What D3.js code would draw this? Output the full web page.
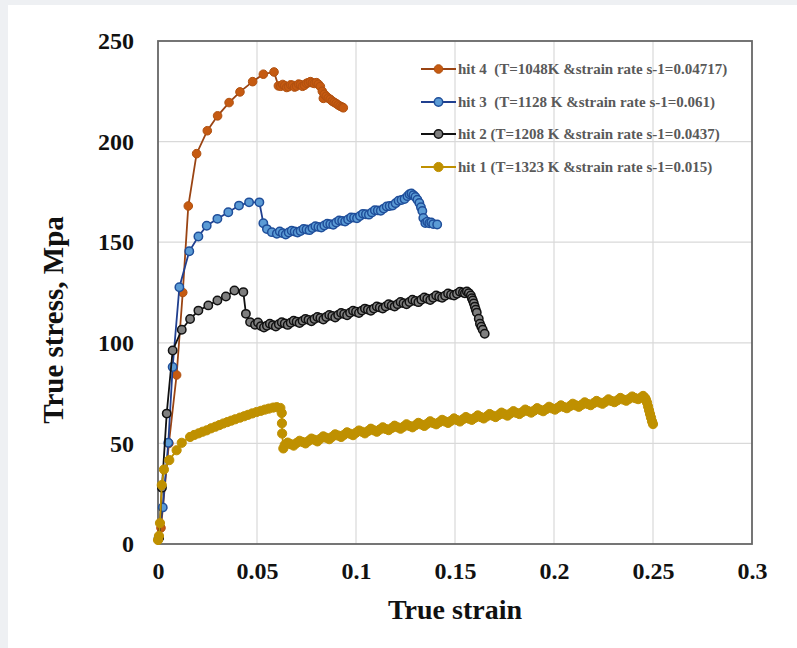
<!DOCTYPE html>
<html>
<head>
<meta charset="utf-8">
<script src="https://cdn.jsdelivr.net/npm/d3@7"></script>
<style>
  body { margin: 0; background: #eef0f3; }
  text { font-family: "Liberation Serif", "Times New Roman", serif; font-weight: bold; }
</style>
</head>
<body>
<svg id="container" width="797" height="648"></svg>
<script>
// tick labels
var xTicks = [0, 0.05, 0.1, 0.15, 0.2, 0.25, 0.3];
var yTicks = [0, 50, 100, 150, 200, 250];
var xTickLabels = ["0", "0.05", "0.1", "0.15", "0.2", "0.25", "0.3"];
var yTickLabels = ["0", "50", "100", "150", "200", "250"];

// series names (legend order)
var seriesNames = [
  "hit 4  (T=1048K &strain rate s-1=0.04717)",
  "hit 3  (T=1128 K &strain rate s-1=0.061)",
  "hit 2 (T=1208 K &strain rate s-1=0.0437)",
  "hit 1 (T=1323 K &strain rate s-1=0.015)"
];

// [true strain, true stress MPa]
var hit4 = [
  [0.0005, 3], [0.0015, 8], [0.0055, 50], [0.0094, 84], [0.0125, 125], [0.0153, 168],
  [0.0195, 194], [0.0249, 205.4], [0.0301, 212.8], [0.0359, 219.4], [0.0414, 224.7],
  [0.0478, 229.8], [0.0532, 233.5], [0.0586, 234.6], [0.0608, 227.7], [0.062, 227.5],
  [0.063, 228.4], [0.064, 227.8], [0.065, 226.9], [0.066, 227.3], [0.067, 228.2],
  [0.068, 228.0], [0.069, 227.1], [0.070, 227.6], [0.071, 228.6], [0.072, 228.3],
  [0.073, 227.5], [0.074, 228.0], [0.075, 229.0], [0.076, 229.3], [0.077, 229.8],
  [0.078, 229.2], [0.079, 228.9], [0.080, 229.3], [0.081, 228.5], [0.082, 227.4],
  [0.083, 225.0], [0.0835, 221.5], [0.084, 223.5], [0.085, 222.5], [0.086, 221.6],
  [0.087, 221.0], [0.088, 220.1], [0.089, 219.5], [0.090, 218.9], [0.091, 218.2],
  [0.092, 217.6], [0.093, 217.2], [0.0936, 216.8]
];

var hit3 = [
  [0.0003, 3], [0.0024, 18.2], [0.0052, 50.3], [0.0074, 88], [0.0108, 127.6],
  [0.0158, 145.5], [0.0204, 152.8], [0.0246, 158.2], [0.030, 161.6], [0.0355, 164.9],
  [0.0409, 168.2], [0.046, 169.8], [0.0512, 169.8], [0.0532, 159.4], [0.055, 156.5],
  [0.0575, 155.0], [0.060, 154.2], [0.0615, 155.3], [0.063, 154.5], [0.0645, 153.8],
  [0.066, 154.8], [0.0675, 155.7], [0.069, 155.3], [0.0705, 154.8], [0.072, 155.6],
  [0.0735, 156.6], [0.075, 156.3], [0.0765, 156.0], [0.078, 157.0], [0.0795, 157.9],
  [0.081, 157.6], [0.0825, 157.3], [0.084, 158.3], [0.0855, 159.2], [0.087, 159.0],
  [0.0885, 158.7], [0.090, 159.8], [0.0915, 160.8], [0.093, 160.6], [0.0945, 160.3],
  [0.096, 161.3], [0.0975, 162.3], [0.099, 162.2], [0.1005, 161.9], [0.102, 163.0],
  [0.1035, 164.1], [0.105, 163.9], [0.1065, 163.7], [0.108, 164.8], [0.1095, 165.9],
  [0.111, 165.8], [0.1125, 165.6], [0.114, 166.7], [0.1155, 167.8], [0.117, 168.0],
  [0.1185, 168.2], [0.120, 169.4], [0.1215, 170.6], [0.123, 171.0], [0.1245, 171.5],
  [0.126, 172.9], [0.127, 173.8], [0.128, 174.2], [0.129, 173.4], [0.130, 172.5],
  [0.131, 171.1], [0.132, 169.5], [0.1328, 167.4], [0.1335, 165.5], [0.134, 162.0],
  [0.135, 159.5], [0.136, 160.2], [0.137, 159.4], [0.138, 159.8], [0.139, 159.0],
  [0.141, 158.8]
];

var hit2 = [
  [0.0005, 3], [0.002, 28], [0.0044, 64.8], [0.0074, 96.2], [0.012, 106.5],
  [0.0162, 111.8], [0.0204, 116], [0.0254, 118.6], [0.030, 121], [0.0343, 123],
  [0.0386, 126], [0.0431, 125.2], [0.0444, 114.4], [0.0465, 110.3], [0.049, 109.0],
  [0.0505, 110.1], [0.052, 108.3], [0.0535, 107.6], [0.055, 108.5], [0.0565, 109.5],
  [0.058, 108.8], [0.0595, 108.1], [0.061, 109.2], [0.0625, 110.2], [0.064, 109.6],
  [0.0655, 108.9], [0.067, 110.0], [0.0685, 111.0], [0.070, 110.5], [0.0715, 109.8],
  [0.073, 110.9], [0.0745, 111.9], [0.076, 111.4], [0.0775, 110.7], [0.079, 111.8],
  [0.0805, 112.8], [0.082, 112.3], [0.0835, 111.6], [0.085, 112.8], [0.0865, 113.8],
  [0.088, 113.3], [0.0895, 112.6], [0.091, 113.8], [0.0925, 114.8], [0.094, 114.3],
  [0.0955, 113.7], [0.097, 114.9], [0.0985, 115.9], [0.100, 115.4], [0.1015, 114.8],
  [0.103, 116.0], [0.1045, 117.0], [0.106, 116.5], [0.1075, 115.9], [0.109, 117.0],
  [0.1105, 118.1], [0.112, 117.6], [0.1135, 117.0], [0.115, 118.1], [0.1165, 119.2],
  [0.118, 118.6], [0.1195, 118.0], [0.121, 119.2], [0.1225, 120.3], [0.124, 119.7],
  [0.1255, 119.1], [0.127, 120.3], [0.1285, 121.4], [0.130, 120.8], [0.1315, 120.2],
  [0.133, 121.4], [0.1345, 122.5], [0.136, 121.9], [0.1375, 121.3], [0.139, 122.4],
  [0.1405, 123.5], [0.142, 122.9], [0.1435, 122.4], [0.145, 123.4], [0.1465, 124.5],
  [0.148, 123.9], [0.1495, 123.5], [0.151, 124.4], [0.1525, 125.4], [0.154, 125.0],
  [0.155, 124.6], [0.156, 125.5], [0.157, 124.7], [0.158, 123.5], [0.1585, 122.2],
  [0.159, 121.0], [0.1595, 119.6], [0.160, 118.0], [0.1605, 116.4], [0.161, 115.0],
  [0.162, 112.0], [0.1626, 109.5], [0.1633, 108.0], [0.164, 106.5], [0.165, 104.5]
];

var hit1 = [
  [0, 2], [0.0005, 4], [0.001, 10.4], [0.0019, 29.3], [0.003, 37], [0.0057, 41.7],
  [0.0094, 46.6], [0.012, 50.3], [0.0162, 53.2], [0.0183, 54.2], [0.0205, 55.0],
  [0.0225, 55.8], [0.0246, 56.5], [0.0268, 57.5], [0.029, 58.3], [0.031, 59.1],
  [0.033, 59.9], [0.035, 60.6], [0.037, 61.3], [0.039, 62.0], [0.0414, 62.8],
  [0.0435, 63.5], [0.0455, 64.2], [0.0476, 64.9], [0.0498, 65.6], [0.052, 66.2],
  [0.054, 66.8], [0.056, 67.3], [0.0582, 67.8], [0.060, 68.0], [0.0618, 67.6],
  [0.0625, 65.1], [0.0626, 60.0], [0.0627, 54.9], [0.0633, 47.5], [0.064, 49.2],
  [0.0655, 50.4], [0.067, 49.6], [0.0685, 48.9], [0.070, 50.2], [0.0715, 51.3],
  [0.073, 50.7], [0.0745, 50.0], [0.076, 51.2], [0.0775, 52.4], [0.079, 51.8],
  [0.0805, 51.0], [0.082, 52.3], [0.0835, 53.5], [0.085, 52.8], [0.0865, 52.1],
  [0.088, 53.3], [0.0895, 54.5], [0.091, 53.9], [0.0925, 53.2], [0.094, 54.3],
  [0.0955, 55.5], [0.097, 54.8], [0.0985, 54.1], [0.100, 55.3], [0.1015, 56.4],
  [0.103, 55.8], [0.1045, 55.0], [0.106, 56.1], [0.1075, 57.3], [0.109, 56.5],
  [0.1105, 55.8], [0.112, 56.9], [0.1135, 58.0], [0.115, 57.2], [0.1165, 56.6],
  [0.118, 57.6], [0.1195, 58.8], [0.121, 58.0], [0.1225, 57.3], [0.124, 58.3],
  [0.1255, 59.5], [0.127, 58.7], [0.1285, 58.0], [0.130, 59.0], [0.1315, 60.2],
  [0.133, 59.4], [0.1345, 58.7], [0.136, 59.8], [0.1375, 61.0], [0.139, 60.1],
  [0.1405, 59.5], [0.142, 60.5], [0.1435, 61.7], [0.145, 60.9], [0.1465, 60.2],
  [0.148, 61.2], [0.1495, 62.4], [0.151, 61.6], [0.1525, 60.9], [0.154, 62.0],
  [0.1555, 63.1], [0.157, 62.3], [0.1585, 61.7], [0.160, 62.7], [0.1615, 63.9],
  [0.163, 63.1], [0.1645, 62.4], [0.166, 63.4], [0.1675, 64.6], [0.169, 63.8],
  [0.1705, 63.1], [0.172, 64.1], [0.1735, 65.3], [0.175, 64.5], [0.1765, 63.8],
  [0.178, 64.9], [0.1795, 66.0], [0.181, 65.2], [0.1825, 64.6], [0.184, 65.6],
  [0.1855, 66.8], [0.187, 66.0], [0.1885, 65.3], [0.190, 66.3], [0.1915, 67.5],
  [0.193, 66.7], [0.1945, 66.0], [0.196, 67.0], [0.1975, 68.2], [0.199, 67.4],
  [0.2005, 66.8], [0.202, 67.8], [0.2035, 68.9], [0.205, 68.1], [0.2065, 67.5],
  [0.208, 68.5], [0.2095, 69.7], [0.211, 68.9], [0.2125, 68.2], [0.214, 69.2],
  [0.2155, 70.4], [0.217, 69.6], [0.2185, 69.0], [0.220, 70.0], [0.2215, 71.1],
  [0.223, 70.3], [0.2245, 69.7], [0.226, 70.7], [0.2275, 71.9], [0.229, 71.1],
  [0.2305, 70.5], [0.232, 71.4], [0.2335, 72.6], [0.235, 71.8], [0.2365, 71.2],
  [0.238, 72.2], [0.2395, 73.3], [0.241, 72.5], [0.2425, 72.0], [0.244, 72.8],
  [0.245, 73.6], [0.246, 72.6], [0.2465, 71.6], [0.247, 70.2], [0.2475, 68.4],
  [0.248, 66.5], [0.2485, 64.6], [0.249, 62.8], [0.2495, 61.0], [0.250, 59.6]
];

const main = function(){
  var svg = d3.select('#container');

  var margin = {left: 158, top: 41, right: 45, bottom: 104};
  var width = 797 - margin.left - margin.right;
  var height = 648 - margin.top - margin.bottom;

  // white panel over grey page
  svg.append("rect").attr("x", 8).attr("y", 5).attr("width", 789).attr("height", 643).attr("fill", "#fff");

  var x = d3.scaleLinear().domain([0, 0.3]).range([0, width]);
  var y = d3.scaleLinear().domain([0, 250]).range([height, 0]);

  var g = svg.append("g").attr("transform", "translate(" + margin.left + "," + margin.top + ")");

  // gridlines
  g.append("g").selectAll("line").data(xTicks.slice(1, -1)).join("line")
    .attr("x1", d => x(d)).attr("x2", d => x(d))
    .attr("y1", 0).attr("y2", height)
    .attr("stroke", "#d9d9d9").attr("stroke-width", 1.2);
  g.append("g").selectAll("line").data(yTicks.slice(1, -1)).join("line")
    .attr("x1", 0).attr("x2", width)
    .attr("y1", d => y(d)).attr("y2", d => y(d))
    .attr("stroke", "#d9d9d9").attr("stroke-width", 1.2);

  // box
  g.append("rect").attr("width", width).attr("height", height)
    .attr("fill", "none").attr("stroke", "#666").attr("stroke-width", 1.8);

  // axes (labels only)
  var xAxis = d3.axisBottom(x).tickValues(xTicks).tickFormat((d, i) => xTickLabels[i]).tickSize(0).tickPadding(18);
  var yAxis = d3.axisLeft(y).tickValues(yTicks).tickFormat((d, i) => yTickLabels[i]).tickSize(0).tickPadding(24);

  var gx = g.append("g").attr("transform", "translate(0," + height + ")").call(xAxis);
  var gy = g.append("g").call(yAxis);
  [gx, gy].forEach(function(a){
    a.select(".domain").remove();
    a.selectAll("text").attr("font-family", "Liberation Serif, serif").attr("font-weight", "bold")
      .attr("font-size", 24).attr("fill", "#111");
  });

  // axis titles
  svg.append("text").attr("x", margin.left + x(0.15)).attr("y", 619)
    .attr("text-anchor", "middle").attr("font-size", 28).attr("fill", "#111").text("True strain");
  svg.append("text").attr("transform", "translate(63,320) rotate(-90)")
    .attr("text-anchor", "middle").attr("font-size", 29).attr("fill", "#111").text("True stress, Mpa");

  var series = [
    {data: hit4, line: "#9a4413", fill: "#c55a11", stroke: "#b0500f", sw: 1, r: 4.3},
    {data: hit3, line: "#203f8f", fill: "#5b9bd5", stroke: "#1f4e9a", sw: 1.5, r: 4.2},
    {data: hit2, line: "#111", fill: "#7f7f7f", stroke: "#111", sw: 1.5, r: 4.2},
    {data: hit1, line: "#bf9000", fill: "#bf9000", stroke: "#bf9000", sw: 1, r: 4.6}
  ];

  var line = d3.line().x(d => x(d[0])).y(d => y(d[1]));

  series.forEach(function(s){
    var sg = g.append("g");
    sg.append("path").datum(s.data).attr("d", line)
      .attr("fill", "none").attr("stroke", s.line).attr("stroke-width", 1.8);
    sg.selectAll("circle").data(s.data).join("circle")
      .attr("cx", d => x(d[0])).attr("cy", d => y(d[1])).attr("r", s.r)
      .attr("fill", s.fill).attr("stroke", s.stroke).attr("stroke-width", s.sw);
  });

  // legend
  var legendY = [69, 102, 134, 167];
  var lg = svg.append("g");
  series.forEach(function(s, i){
    var row = lg.append("g").attr("transform", "translate(421," + legendY[i] + ")");
    row.append("line").attr("x1", 0).attr("x2", 35).attr("stroke", s.line).attr("stroke-width", 2.2);
    row.append("circle").attr("cx", 17.5).attr("r", s.r)
      .attr("fill", s.fill).attr("stroke", s.stroke).attr("stroke-width", s.sw);
    row.append("text").attr("x", 37).attr("dy", "0.35em").attr("font-size", 15)
      .attr("fill", "#595959").style("white-space", "pre").text(seriesNames[i]);
  });
}

main();
</script>
</body>
</html>
